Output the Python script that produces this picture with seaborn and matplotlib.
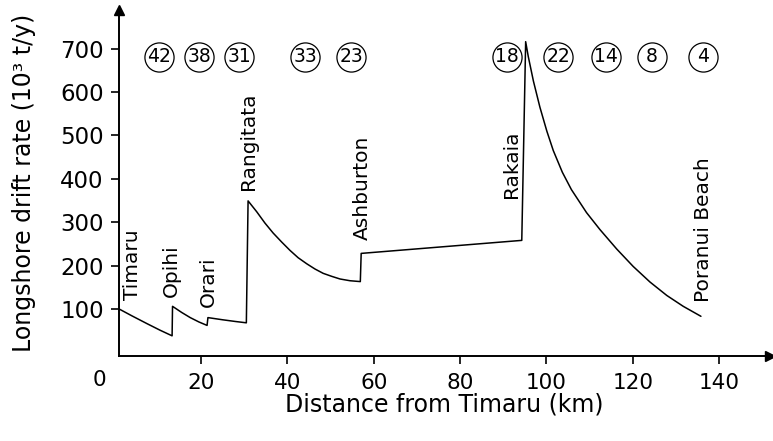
import matplotlib
matplotlib.use("Agg")
import matplotlib.pyplot as plt
import seaborn as sns
import pandas as pd

# ---- data ----
distance_km = [1.0, 4.0, 7.5, 10.5, 13.3,
               13.4, 15.5, 17.5, 19.5, 21.4,
               21.6, 25.0, 28.0, 30.5,
               30.9, 32.9, 34.8, 36.7, 38.7, 40.6, 42.5, 44.5, 46.4, 48.3, 50.3, 52.2, 54.5, 56.9,
               57.1, 94.3,
               95.2, 95.8, 97.0, 98.5, 100.1, 101.6, 103.7, 105.8, 109.3, 112.4, 116.3, 120.1,
               124.0, 127.9, 131.7, 135.8]
drift_rate = [100, 84, 66, 51, 38,
              106, 92, 80, 70, 62,
              80, 75, 71, 68,
              349, 324, 298, 275, 254, 235, 218, 204, 192, 182, 175, 169, 165, 163,
              228, 258,
              716, 682, 625, 565, 510, 465, 415, 375, 322, 283, 238, 198,
              162, 131, 106, 83]

river_names = ["Timaru", "Opihi", "Orari", "Rangitata", "Ashburton", "Rakaia", "Poranui Beach"]
river_x = [4.2, 13.2, 21.6, 31.0, 57.4, 91.9, 136.4]
river_label_bottom = [120, 128, 105, 374, 258, 355, 116]

circle_values = ["42", "38", "31", "33", "23", "18", "22", "14", "8", "4"]
circle_x = [10.3, 19.6, 28.9, 44.2, 54.8, 90.9, 102.7, 113.7, 124.4, 136.2]
circle_y = [681] * len(circle_values)

x_ticks = [20, 40, 60, 80, 100, 120, 140]
y_ticks = [100, 200, 300, 400, 500, 600, 700]

df = pd.DataFrame({"distance": distance_km, "rate": drift_rate})
circles = pd.DataFrame({"x": circle_x, "y": circle_y, "label": circle_values})

# ---- styling ----
sns.set_style("ticks")
plt.rcParams["font.family"] = ["DejaVu Sans"]
plt.rcParams["text.color"] = "black"
plt.rcParams["axes.labelcolor"] = "black"

W, H = 773, 441
fig = plt.figure(figsize=(W / 100, H / 100), dpi=100)
ax = fig.add_axes([119 / W, (H - 356) / H, (770 - 119) / W, (356 - 10) / H])

sns.lineplot(data=df, x="distance", y="rate", sort=False, estimator=None,
             color="black", linewidth=1.1, ax=ax)

ax.set_xlim(1.0, 151.8)
ax.set_ylim(-8.5, 789)
ax.set_xticks(x_ticks)
ax.set_yticks(y_ticks)
ax.tick_params(axis="both", length=6, width=1.2, color="black", labelcolor="black")
ax.tick_params(axis="x", pad=6, labelsize=15.5)
ax.tick_params(axis="y", pad=5, labelsize=16.5)

for s in ["top", "right"]:
    ax.spines[s].set_visible(False)
for s in ["left", "bottom"]:
    ax.spines[s].set_linewidth(1.4)
    ax.spines[s].set_color("black")

# arrow heads
ax.plot(1, 0, ">k", transform=ax.transAxes, clip_on=False, markersize=7)
ax.plot(0, 1, "^k", transform=ax.transAxes, clip_on=False, markersize=7)

# corner zero label
ax.text(-3.6, -64, "0", ha="center", va="center", fontsize=15.5, color="black",
        clip_on=False)

ax.set_xlabel("Distance from Timaru (km)", fontsize=17, labelpad=0)
ax.set_ylabel("Longshore drift rate (10³ t/y)", fontsize=17, labelpad=17)

# river labels
for name, xv, yb in zip(river_names, river_x, river_label_bottom):
    ax.text(xv, yb, name, rotation=90, ha="center", va="bottom", fontsize=14.5,
            color="black")

# circled segment values
sns.scatterplot(data=circles, x="x", y="y", s=440, marker="o", facecolor="white",
                edgecolor="black", linewidth=0.9, legend=False, ax=ax, zorder=3)
for val, xv, yv in zip(circle_values, circle_x, circle_y):
    ax.text(xv, yv, val, ha="center", va="center", fontsize=13.5, color="black",
            zorder=4)

fig.savefig("out.png", dpi=100)
